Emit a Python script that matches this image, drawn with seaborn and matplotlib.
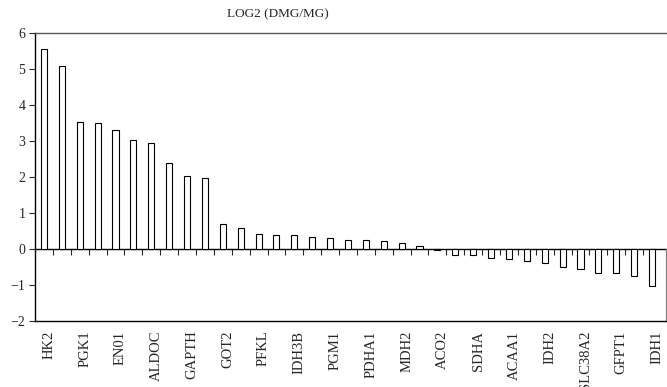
import numpy as np
import pandas as pd
import matplotlib
matplotlib.use("Agg")
import matplotlib.pyplot as plt
import matplotlib.transforms as mtransforms
import seaborn as sns

# Gene names printed under every second bar (bars 1, 3, 5, ...)
labelled_genes = ["HK2", "PGK1", "EN01", "ALDOC", "GAPTH", "GOT2", "PFKL", "IDH3B",
                  "PGM1", "PDHA1", "MDH2", "ACO2", "SDHA", "ACAA1", "IDH2",
                  "SLC38A2", "GFPT1", "IDH1"]

# log2 fold change (DMG / MG), sorted from highest to lowest
log2_ratio = [5.56, 5.08, 3.53, 3.50, 3.31, 3.03, 2.94, 2.40, 2.02, 1.98,
              0.69, 0.59, 0.41, 0.38, 0.38, 0.34, 0.31, 0.24, 0.24, 0.21,
              0.18, 0.09, -0.03, -0.17, -0.16, -0.26, -0.27, -0.32, -0.40,
              -0.49, -0.56, -0.68, -0.68, -0.74, -1.03]

y_ticks = list(range(-2, 7))
title = "LOG2 (DMG/MG)"

sns.set_style("white")
plt.rcParams["font.family"] = ["Liberation Serif", "DejaVu Serif"]

df = pd.DataFrame({"pos": np.arange(len(log2_ratio)), "log2": log2_ratio})

fig = plt.figure(figsize=(6.67, 3.87), dpi=100)
ax = fig.add_axes([35 / 667, 1 - 321 / 387, 631 / 667, 288 / 387])

sns.barplot(data=df, x="pos", y="log2", width=0.34, color="white",
            saturation=1, edgecolor="black", linewidth=0.8, ax=ax)

n = len(log2_ratio)
ax.set_xlim(-0.5, n - 0.5 + 0.28)
ax.set_ylim(y_ticks[0], y_ticks[-1])
ax.set_yticks(y_ticks)
ax.set_xticks(np.arange(0, n, 2))
ax.set_xticklabels(labelled_genes, rotation=90, fontsize=10.5)
ax.set_xlabel("")
ax.set_ylabel("")
ax.tick_params(axis="x", length=0, pad=7)
ax.tick_params(axis="y", direction="out", length=4, width=0.8, labelsize=10,
               left=True, pad=3)

# nudge the rotated gene names slightly to the right of their bars
shift = mtransforms.ScaledTranslation(5 / 100, 0, fig.dpi_scale_trans)
for lbl in ax.get_xticklabels():
    lbl.set_transform(lbl.get_transform() + shift)

for side in ["left", "bottom"]:
    ax.spines[side].set_color("black")
    ax.spines[side].set_linewidth(1.0)
ax.spines["top"].set_color("#555555")
ax.spines["top"].set_linewidth(1.0)
ax.spines["right"].set_color("#777777")
ax.spines["right"].set_linewidth(0.8)
ax.spines["right"].set_bounds(y_ticks[0], 0)

# Zero baseline with category separators ticking downward
zero_axis = ax.secondary_xaxis(0, transform=ax.transData)
zero_axis.xaxis.set_ticks_position("bottom")
zero_axis.set_xticks(np.arange(0.5, n - 0.5, 1))
zero_axis.tick_params(axis="x", direction="out", length=4, width=0.8,
                      labelbottom=False, labeltop=False)
zero_axis.spines["bottom"].set_color("black")
zero_axis.spines["bottom"].set_linewidth(1.0)

fig.text(278 / 667, 1 - 14 / 387, title, ha="center", va="center", fontsize=9.5)

fig.savefig("out.png", dpi=100)
